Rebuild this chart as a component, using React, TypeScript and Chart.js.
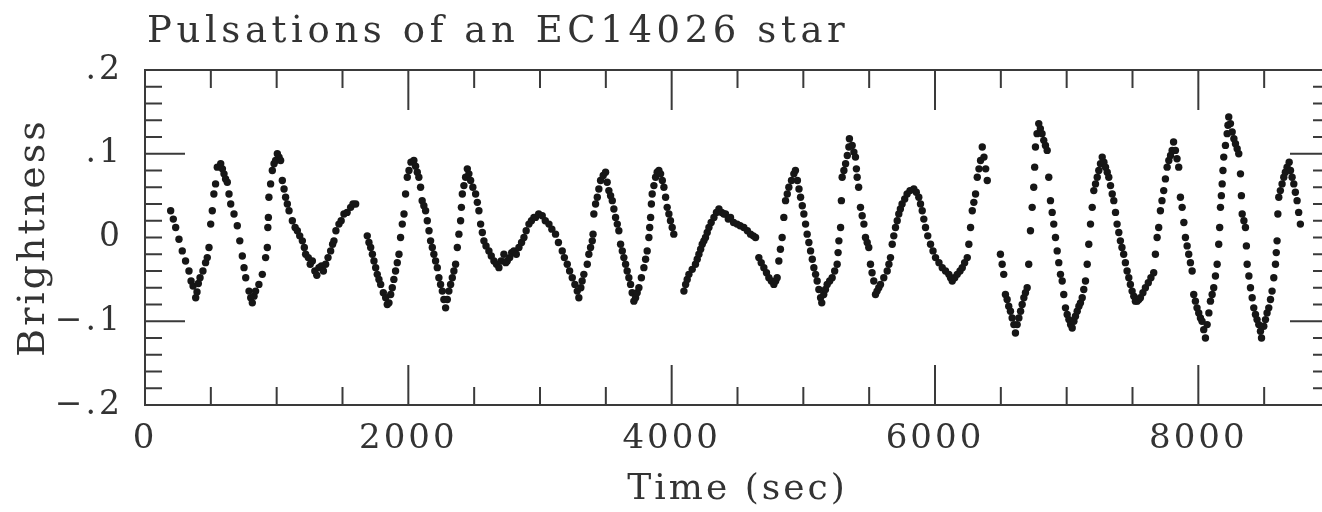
import React, { useEffect, useRef } from "react";
import { Chart, registerables } from "chart.js";

Chart.register(...registerables);

const chartTitle = "Pulsations of an EC14026 star";
const xAxisTitle = "Time (sec)";
const yAxisTitle = "Brightness";

const xTickValues = [0, 2000, 4000, 6000, 8000];
const xTickLabels = ["0", "2000", "4000", "6000", "8000"];
const yTickValues = [-0.2, -0.1, 0, 0.1, 0.2];
const yTickLabels = ["\u2212.2", "\u2212.1", "0", ".1", ".2"];

// time (s) of each photometric point
const timeSec = [
  195, 215, 233, 258, 283, 308, 334, 350, 365, 385, 395, 405, 418, 440, 460, 473, 486, 499, 511, 523, 536, 549, 575, 588, 600, 612, 625, 638, 651, 676, 701, 720, 739, 752, 765, 790, 803, 815, 828, 840, 865, 891, 916, 929, 933, 937, 941, 954, 967, 980, 992, 1005, 1018, 1030, 1043, 1056, 1068, 1081, 1094, 1119, 1140, 1157, 1175, 1195, 1210, 1220, 1240, 1255, 1271, 1290, 1305, 1321, 1340, 1355, 1372, 1390, 1410, 1425, 1435, 1450, 1473, 1490, 1511, 1535, 1562, 1580, 1600,
  1688, 1701, 1714, 1727, 1739, 1752, 1764, 1777, 1790, 1810, 1828, 1840, 1853, 1866, 1878, 1890, 1903, 1916, 1929, 1941, 1954, 1967, 1979, 1992, 2005, 2020, 2042, 2055, 2068, 2080, 2093, 2105, 2118, 2131, 2144, 2157, 2169, 2182, 2194, 2207, 2220, 2232, 2245, 2258, 2270, 2283, 2296, 2308, 2321, 2334, 2346, 2359, 2372, 2384, 2397, 2403, 2410, 2422, 2435, 2448, 2460, 2473, 2490, 2511, 2524, 2536, 2549, 2562, 2574, 2590, 2612, 2630, 2650, 2670, 2688, 2705, 2726, 2740, 2751, 2770, 2785, 2802, 2820, 2840, 2860, 2878, 2895, 2916, 2935, 2954, 2966, 2990, 3017, 3040, 3068, 3090, 3118, 3140, 3169, 3185, 3207, 3225, 3245, 3265, 3283, 3295, 3310, 3320, 3333, 3359, 3371, 3384, 3397, 3403, 3409, 3422, 3435, 3447, 3460, 3480, 3498, 3510, 3523, 3536, 3549, 3561, 3574, 3587, 3599, 3612, 3625, 3637, 3650, 3662, 3675, 3688, 3700, 3713, 3726, 3738, 3751, 3770, 3789, 3802, 3814, 3827, 3833, 3840, 3846, 3852, 3865, 3878, 3890, 3903, 3916, 3929, 3941, 3954, 3966, 3979, 3991, 4004, 4016,
  4093, 4106, 4118, 4131, 4156, 4181, 4194, 4207, 4220, 4232, 4245, 4257, 4270, 4283, 4300, 4321, 4340, 4359, 4380, 4396, 4409, 4430, 4447, 4470, 4497, 4520, 4548, 4575, 4599, 4620, 4637,
  4662, 4680, 4700, 4720, 4738, 4757, 4776, 4790, 4801, 4814, 4826, 4839, 4852, 4865, 4878, 4890, 4910, 4928, 4940, 4955, 4967, 4979, 4992, 5004, 5017, 5029, 5042, 5055, 5068, 5080, 5093, 5105, 5118, 5131, 5140, 5155, 5168, 5181, 5200, 5219, 5238, 5257, 5264, 5270, 5283, 5289, 5295, 5308, 5321, 5334, 5346, 5350, 5371, 5384, 5396, 5403, 5409, 5420, 5434, 5447, 5460, 5472, 5485, 5497, 5510, 5522, 5535, 5548, 5560, 5573, 5586, 5611, 5637, 5650, 5662, 5675, 5687, 5700, 5713, 5725, 5737, 5750, 5770, 5788, 5810, 5839, 5858, 5877, 5890, 5903, 5915, 5928, 5945, 5966, 5985, 6004, 6030, 6055, 6080, 6105, 6118, 6131, 6150, 6169, 6190, 6207, 6225, 6245, 6257, 6270, 6283, 6295, 6308, 6321, 6334, 6346, 6359, 6372, 6385, 6397,
  6497, 6510, 6522, 6535, 6548, 6560, 6573, 6586, 6599, 6611, 6624, 6637, 6650, 6662, 6675, 6687, 6700, 6712, 6725, 6738, 6750, 6757, 6763, 6775, 6788, 6800, 6813, 6826, 6839, 6852, 6864, 6877, 6890, 6902, 6915, 6928, 6940, 6953, 6966, 6978, 6991, 7004, 7017, 7030, 7042, 7055, 7067, 7080, 7093, 7105, 7118, 7130, 7143, 7156, 7168, 7181, 7194, 7206, 7219, 7232, 7244, 7257, 7270, 7283, 7295, 7308, 7320, 7333, 7346, 7358, 7371, 7383, 7396, 7408, 7420, 7433, 7446, 7459, 7472, 7484, 7497, 7510, 7522, 7535, 7548, 7560, 7579, 7598, 7620, 7640, 7661, 7674, 7687, 7699, 7712, 7724, 7737, 7750, 7763, 7776, 7789, 7801, 7812, 7826, 7838, 7851, 7864, 7877, 7890, 7902, 7915, 7927, 7940, 7953, 7965, 7978, 7990, 8003, 8016, 8028, 8041, 8054, 8067, 8080, 8092, 8105, 8117, 8130, 8143, 8155, 8162, 8168, 8175, 8181, 8187, 8193, 8206, 8219, 8225, 8231, 8244, 8257, 8270, 8282, 8295, 8307, 8320, 8327, 8333, 8346, 8358, 8365, 8371, 8384, 8396, 8409, 8421, 8434, 8446, 8459, 8472, 8480, 8497, 8510, 8522, 8535, 8548, 8560, 8573, 8586, 8592, 8598, 8604, 8611, 8623, 8636, 8649, 8661, 8674, 8690, 8700, 8712, 8725, 8737, 8750, 8762, 8775,
];

// relative brightness of each point
const brightness = [
  0.032, 0.022, 0.012, -0.002, -0.016, -0.028, -0.04, -0.052, -0.058, -0.072, -0.065, -0.055, -0.048, -0.04, -0.03, -0.024, -0.012, 0.016, 0.032, 0.052, 0.064, 0.084, 0.088, 0.082, 0.076, 0.07, 0.066, 0.052, 0.04, 0.028, 0.014, -0.004, -0.022, -0.036, -0.048, -0.064, -0.072, -0.078, -0.07, -0.064, -0.056, -0.044, -0.024, -0.012, 0.012, 0.024, 0.048, 0.064, 0.08, 0.088, 0.092, 0.1, 0.096, 0.092, 0.068, 0.058, 0.048, 0.04, 0.032, 0.02, 0.012, 0.008, 0.002, -0.004, -0.012, -0.02, -0.024, -0.032, -0.028, -0.04, -0.045, -0.036, -0.034, -0.04, -0.032, -0.024, -0.016, -0.008, -0.004, 0.008, 0.016, 0.02, 0.028, 0.03, 0.036, 0.04, 0.04,
  0.002, -0.006, -0.012, -0.02, -0.028, -0.036, -0.044, -0.05, -0.056, -0.066, -0.072, -0.08, -0.078, -0.068, -0.06, -0.05, -0.04, -0.03, -0.02, 0, 0.016, 0.028, 0.052, 0.072, 0.08, 0.09, 0.092, 0.085, 0.078, 0.072, 0.06, 0.044, 0.038, 0.032, 0.02, 0.008, -0.004, -0.012, -0.02, -0.028, -0.036, -0.048, -0.056, -0.064, -0.074, -0.084, -0.074, -0.064, -0.056, -0.048, -0.04, -0.032, -0.012, 0.004, 0.02, 0.036, 0.052, 0.062, 0.072, 0.082, 0.076, 0.068, 0.06, 0.052, 0.042, 0.032, 0.016, 0.006, -0.004, -0.01, -0.016, -0.022, -0.028, -0.032, -0.036, -0.028, -0.02, -0.03, -0.028, -0.024, -0.018, -0.016, -0.02, -0.012, -0.006, 0, 0.008, 0.016, 0.02, 0.024, 0.024, 0.028, 0.026, 0.02, 0.016, 0.01, 0.004, -0.006, -0.016, -0.024, -0.032, -0.04, -0.048, -0.056, -0.064, -0.072, -0.06, -0.052, -0.044, -0.032, -0.02, -0.012, -0.004, 0.004, 0.028, 0.04, 0.048, 0.058, 0.068, 0.074, 0.078, 0.066, 0.056, 0.05, 0.044, 0.034, 0.024, 0.016, 0.008, -0.008, -0.016, -0.024, -0.032, -0.04, -0.048, -0.056, -0.066, -0.076, -0.072, -0.066, -0.06, -0.048, -0.036, -0.026, -0.016, 0, 0.012, 0.024, 0.04, 0.052, 0.062, 0.072, 0.078, 0.08, 0.076, 0.068, 0.06, 0.048, 0.036, 0.028, 0.02, 0.012, 0.004,
  -0.064, -0.056, -0.05, -0.044, -0.038, -0.032, -0.026, -0.02, -0.014, -0.008, -0.004, 0, 0.006, 0.012, 0.018, 0.024, 0.03, 0.034, 0.03, 0.028, 0.028, 0.022, 0.024, 0.018, 0.016, 0.014, 0.012, 0.008, 0.004, 0.002, 0,
  -0.024, -0.03, -0.036, -0.042, -0.048, -0.052, -0.056, -0.052, -0.048, -0.028, -0.014, 0, 0.024, 0.044, 0.052, 0.06, 0.068, 0.076, 0.08, 0.068, 0.058, 0.048, 0.038, 0.028, 0.016, 0.004, -0.006, -0.016, -0.026, -0.036, -0.044, -0.052, -0.062, -0.072, -0.078, -0.068, -0.062, -0.056, -0.052, -0.048, -0.04, -0.032, -0.018, -0.004, 0.012, 0.044, 0.072, 0.08, 0.088, 0.098, 0.108, 0.118, 0.11, 0.102, 0.096, 0.082, 0.072, 0.06, 0.036, 0.026, 0.016, 0, -0.006, -0.012, -0.032, -0.042, -0.052, -0.068, -0.064, -0.06, -0.056, -0.048, -0.04, -0.032, -0.024, -0.008, 0.002, 0.012, 0.02, 0.028, 0.034, 0.04, 0.046, 0.052, 0.056, 0.058, 0.054, 0.048, 0.04, 0.032, 0.022, 0.012, 0.002, -0.008, -0.016, -0.024, -0.03, -0.036, -0.04, -0.044, -0.048, -0.052, -0.048, -0.044, -0.04, -0.036, -0.03, -0.024, -0.008, 0.012, 0.032, 0.042, 0.052, 0.072, 0.082, 0.092, 0.108, 0.096, 0.082, 0.068,
  -0.02, -0.032, -0.044, -0.068, -0.074, -0.082, -0.088, -0.096, -0.104, -0.114, -0.104, -0.096, -0.088, -0.08, -0.072, -0.066, -0.06, -0.032, 0.008, 0.036, 0.06, 0.084, 0.108, 0.124, 0.136, 0.13, 0.124, 0.116, 0.11, 0.104, 0.072, 0.044, 0.03, 0.016, 0, -0.016, -0.03, -0.044, -0.052, -0.068, -0.084, -0.092, -0.098, -0.104, -0.108, -0.1, -0.094, -0.088, -0.082, -0.078, -0.072, -0.062, -0.052, -0.032, -0.008, 0.016, 0.036, 0.056, 0.064, 0.072, 0.08, 0.088, 0.096, 0.09, 0.084, 0.078, 0.072, 0.062, 0.052, 0.044, 0.03, 0.016, 0.006, -0.004, -0.012, -0.02, -0.03, -0.04, -0.048, -0.056, -0.064, -0.07, -0.076, -0.076, -0.074, -0.072, -0.066, -0.06, -0.054, -0.048, -0.042, -0.02, 0, 0.012, 0.032, 0.044, 0.056, 0.07, 0.084, 0.092, 0.098, 0.104, 0.114, 0.104, 0.094, 0.084, 0.048, 0.036, 0.018, 0, -0.01, -0.02, -0.03, -0.04, -0.068, -0.076, -0.084, -0.09, -0.096, -0.1, -0.11, -0.12, -0.104, -0.09, -0.076, -0.068, -0.06, -0.046, -0.032, -0.008, 0.012, 0.036, 0.05, 0.064, 0.08, 0.096, 0.11, 0.124, 0.134, 0.144, 0.136, 0.126, 0.118, 0.112, 0.106, 0.1, 0.076, 0.05, 0.028, 0.02, 0.012, -0.01, -0.032, -0.046, -0.06, -0.072, -0.084, -0.092, -0.098, -0.104, -0.112, -0.12, -0.106, -0.098, -0.09, -0.084, -0.074, -0.064, -0.048, -0.032, -0.018, -0.004, 0.028, 0.048, 0.056, 0.064, 0.072, 0.078, 0.084, 0.09, 0.08, 0.072, 0.064, 0.054, 0.044, 0.03, 0.016,
];

const FONT = "'DejaVu Serif', serif";
const TEXT_COLOR = "#333333";
const LINE_COLOR = "#3a3a3a";
const SPACING = "3px";

const framePlugin = {
  id: "scanFrame",
  beforeDraw(chart: any) {
    chart.ctx.letterSpacing = SPACING;
  },
  afterDraw(chart: any) {
    const ctx = chart.ctx;
    const { left, right, top, bottom } = chart.chartArea;
    const xs = chart.scales.x;
    const ys = chart.scales.y;
    ctx.save();
    ctx.strokeStyle = LINE_COLOR;
    ctx.lineWidth = 2;
    ctx.strokeRect(left, top, right - left, bottom - top);
    ctx.beginPath();
    for (let t = 500; t < 9000; t += 500) {
      const px = xs.getPixelForValue(t);
      const len = t % 2000 === 0 ? 40 : 18;
      ctx.moveTo(px, top);
      ctx.lineTo(px, top + len);
      ctx.moveTo(px, bottom);
      ctx.lineTo(px, bottom - len);
    }
    for (let k = -9; k <= 9; k++) {
      const v = k * 0.02;
      const py = ys.getPixelForValue(v);
      const len = Math.abs(k) === 5 ? 40 : 17;
      ctx.moveTo(left, py);
      ctx.lineTo(left + len, py);
      ctx.moveTo(right, py);
      ctx.lineTo(right - len, py);
    }
    ctx.stroke();
    ctx.letterSpacing = "4.6px";
    ctx.fillStyle = TEXT_COLOR;
    ctx.font = `37px ${FONT}`;
    ctx.textAlign = "left";
    ctx.textBaseline = "alphabetic";
    ctx.fillText(chartTitle, 147, 42);
    ctx.restore();
  },
};

export default function App() {
  const canvasRef = useRef<HTMLCanvasElement | null>(null);

  useEffect(() => {
    const canvas = canvasRef.current;
    if (!canvas) return;
    const points = timeSec.map((t, i) => ({ x: t, y: brightness[i] }));
    const chart = new Chart(canvas, {
      type: "scatter",
      data: {
        datasets: [
          {
            data: points,
            pointRadius: 3.7,
            pointHoverRadius: 3.7,
            pointBackgroundColor: "#161616",
            pointBorderWidth: 0,
            showLine: false,
          },
        ],
      },
      options: {
        animation: false,
        responsive: true,
        maintainAspectRatio: false,
        layout: { padding: { left: 0, right: 15, top: 70, bottom: 0 } },
        plugins: {
          legend: { display: false },
          tooltip: { enabled: false },
          title: { display: false },
        },
        scales: {
          x: {
            type: "linear",
            position: "bottom",
            min: 0,
            max: 9000,
            afterBuildTicks: (s: any) => {
              s.ticks = xTickValues.map((v) => ({ value: v }));
            },
            afterFit: (s: any) => {
              s.height = 107;
            },
            grid: { display: false, drawTicks: false },
            border: { display: false },
            ticks: {
              padding: 14,
              color: TEXT_COLOR,
              font: { family: FONT, size: 34 },
              maxRotation: 0,
              autoSkip: false,
              callback: (v: any) => xTickLabels[xTickValues.indexOf(Number(v))],
            },
            title: {
              display: true,
              text: xAxisTitle,
              color: TEXT_COLOR,
              font: { family: FONT, size: 36 },
              padding: { top: 0, bottom: 1 },
            },
          },
          y: {
            type: "linear",
            position: "left",
            min: -0.2,
            max: 0.2,
            afterBuildTicks: (s: any) => {
              s.ticks = yTickValues.map((v) => ({ value: v }));
            },
            afterFit: (s: any) => {
              s.width = 145;
            },
            grid: { display: false, drawTicks: false },
            border: { display: false },
            ticks: {
              padding: 22,
              color: TEXT_COLOR,
              font: { family: FONT, size: 33 },
              callback: (v: any) => yTickLabels[yTickValues.indexOf(Number(v))],
            },
            title: {
              display: true,
              text: yAxisTitle,
              color: TEXT_COLOR,
              font: { family: FONT, size: 38 },
              padding: { top: 11, bottom: 0 },
            },
          },
        },
      },
      plugins: [framePlugin],
    });
    return () => chart.destroy();
  }, []);

  return (
    <div
      style={{
        position: "fixed",
        left: 0,
        top: 0,
        width: 1345,
        height: 512,
        background: "#ffffff",
      }}
    >
      <canvas ref={canvasRef} />
    </div>
  );
}
